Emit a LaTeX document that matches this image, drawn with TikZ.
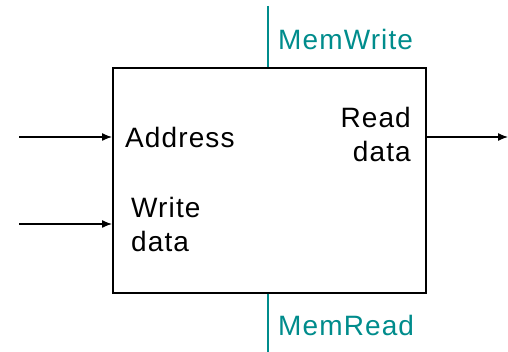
\documentclass[tikz,border=0pt]{standalone}
\usepackage{fontspec}
\setmainfont{Liberation Sans}[LetterSpace=4]
\usepackage{xcolor}
\usetikzlibrary{arrows.meta}
\definecolor{ctrlteal}{RGB}{0,140,140}

\begin{document}
\begin{tikzpicture}[x=1pt,y=-1pt,
  unit/.style={draw,line width=1.6pt,inner sep=0pt,minimum width=313pt,minimum height=225pt,anchor=north west},
  bus/.style={line width=1.3pt,-{Latex[length=10pt,width=8pt]}},
  ctrl/.style={draw=ctrlteal,line width=1.2pt},
  lbl/.style={font=\fontsize{28}{34}\selectfont,inner sep=0pt},
  ctrllbl/.style={lbl,text=ctrlteal,anchor=base west}]
\useasboundingbox (0,0) rectangle (508,352);
% data memory unit
\node[unit] (mem) at (112,67) {};
% data ports
\coordinate (addrin) at (19,137);
\coordinate (wdin) at (19,224);
\coordinate (rdout) at (508,137);
\draw[bus] (addrin) -- (addrin -| mem.west);
\draw[bus] (wdin) -- (wdin -| mem.west);
\draw[bus] (rdout -| mem.east) -- (rdout);
\node[lbl,anchor=base west] (addr) at (125,148) {Address};
\node[lbl,anchor=base west,align=left] (wdata) at (131,252) {Write\\data};
\node[lbl,anchor=base east,align=right] (rdata) at (411,162) {Read\\data};
% control signals
\coordinate (mwtop) at (268,6);
\coordinate (mrbot) at (268,352);
\draw[ctrl] (mwtop) -- (mwtop |- mem.north);
\draw[ctrl] (mem.south -| mrbot) -- (mrbot);
\node[ctrllbl] (memwrite) at (278,50) {MemWrite};
\node[ctrllbl] (memread) at (278,335) {MemRead};
\end{tikzpicture}
\end{document}
